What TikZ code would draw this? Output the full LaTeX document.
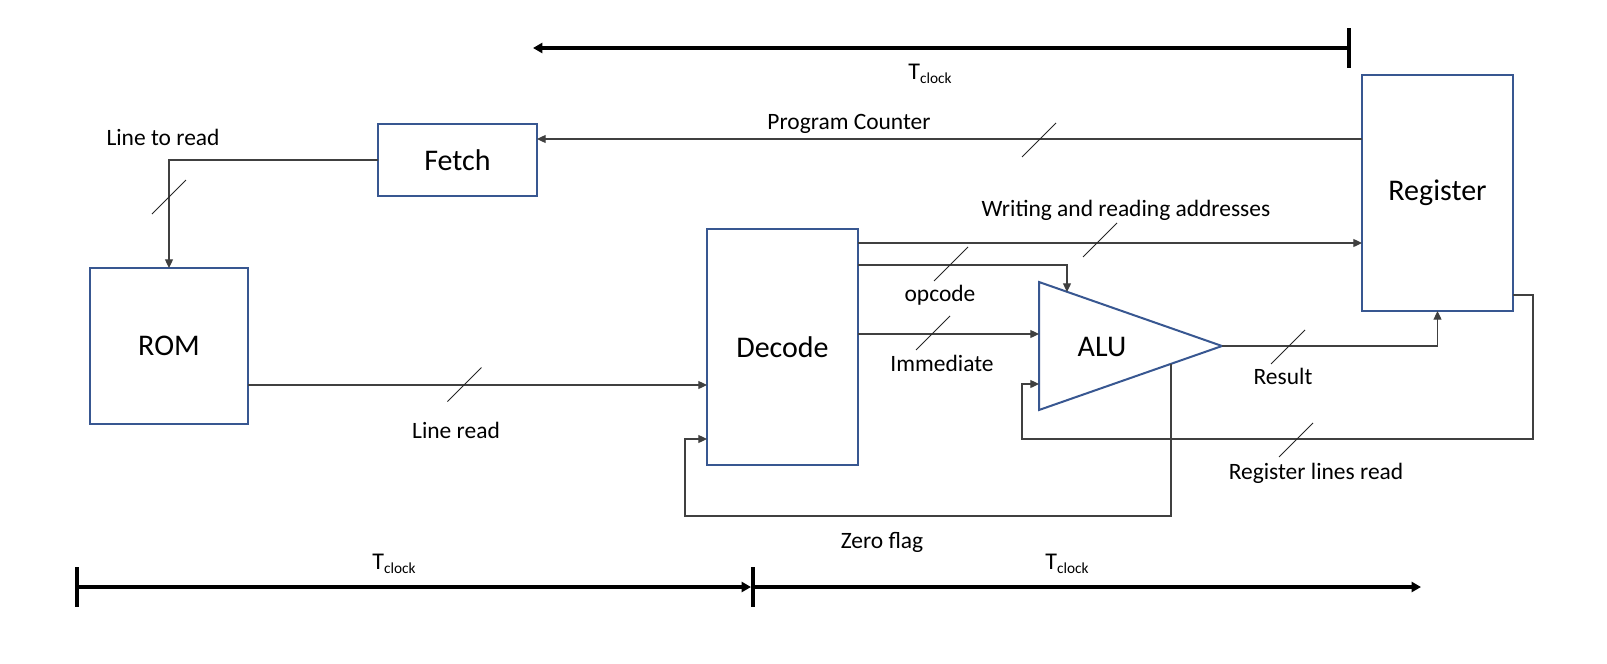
\documentclass[tikz,border=0pt]{standalone}
\usepackage{fontspec}
\setmainfont{Carlito}
\usetikzlibrary{arrows.meta}
\definecolor{boxblue}{RGB}{56,87,145}
\tikzset{
  box/.style={draw=boxblue, line width=1.5pt, inner sep=0pt, outer sep=0pt, fill=white,
              font=\fontsize{22.5}{26}\selectfont},
  conn/.style={draw=black!75, line width=0.9pt},
  arr/.style={conn, -{Triangle[length=6.5pt,width=6pt]}},
  tick/.style={draw=black!85, line width=0.7pt},
  lbl/.style={font=\fontsize{17.6}{20}\selectfont, inner sep=0pt, anchor=base},
  tline/.style={draw=black, line width=3pt},
  tarr/.style={tline, -{Triangle[length=7pt,width=7.5pt]}},
  tbar/.style={draw=black, line width=3.6pt},
  tclk/.style={font=\fontsize{18}{20}\selectfont, inner sep=0pt, anchor=base}
}
\newcommand{\tclock}{T\raisebox{-3pt}{\fontsize{11.5}{12}\selectfont clock}}
\begin{document}
\begin{tikzpicture}[x=0.75pt,y=-0.75pt]
\useasboundingbox (0,0) rectangle (1607,664);

% boxes
\node[box, minimum width=119.25pt, minimum height=54pt] (fetch) at (457.5,160) {Fetch};
\node[box, minimum width=118.5pt, minimum height=117pt] (rom) at (169,346) {ROM};
\node[box, minimum width=113.25pt, minimum height=177pt] (dec) at (782.5,347) {Decode};
\node[box, minimum width=113.25pt, minimum height=177pt] (reg) at (1437.5,193) {Register};

% ALU triangle
\coordinate (alutl) at (1039,282);
\coordinate (alubl) at (1039,410);
\coordinate (aluapex) at (1222,346);
\draw[draw=boxblue, line width=1.5pt, fill=white, line join=miter] (alutl) -- (aluapex) -- (alubl) -- cycle;
\node[font=\fontsize{22.5}{26}\selectfont, inner sep=0pt] (alu) at (1102,347) {ALU};

% helper coordinates
\coordinate (pcy) at (0,139);
\coordinate (lry) at (0,385);
\coordinate (way) at (0,243);
\coordinate (opy) at (0,265);
\coordinate (opin) at (1067,292);
\coordinate (imin) at (1039,334);
\coordinate (rly) at (0,295);
\coordinate (rlc1) at (1533,295);
\coordinate (rlc2) at (1533,439);
\coordinate (rlc3) at (1022,439);
\coordinate (rlc4) at (1022,384);
\coordinate (rlin) at (1039,384);
\coordinate (zfout) at (1171,364);
\coordinate (zfc1) at (1171,516);
\coordinate (zfc2) at (685,516);
\coordinate (zfc3) at (685,439);
\coordinate (zfy) at (0,439);

% connectors
\draw[arr] (reg.west |- pcy) -- (fetch.east |- pcy);
\draw[arr] (fetch.west) -| (rom.north);
\draw[arr] (rom.east |- lry) -- (dec.west |- lry);
\draw[arr] (dec.east |- way) -- (reg.west |- way);
\draw[arr] (dec.east |- opy) -| (opin);
\draw[arr] (dec.east |- imin) -- (imin);
\draw[arr] (aluapex) -| (reg.south);
\draw[arr] (reg.east |- rly) -- (rlc1) -- (rlc2) -- (rlc3) -- (rlc4) -- (rlin);
\draw[arr] (zfout) -- (zfc1) -- (zfc2) -- (zfc3) -- (dec.west |- zfy);

% bus ticks
\draw[tick] (169,197) +(-17,17) -- +(17,-17);
\draw[tick] (1039,140) +(-17,17) -- +(17,-17);
\draw[tick] (464.5,384.5) +(-17,17) -- +(17,-17);
\draw[tick] (1100,240) +(-17,17) -- +(17,-17);
\draw[tick] (951,264) +(-17,17) -- +(17,-17);
\draw[tick] (933,333) +(-17,17) -- +(17,-17);
\draw[tick] (1288,347) +(-17,17) -- +(17,-17);
\draw[tick] (1296,440) +(-17,17) -- +(17,-17);

% labels
\node[lbl] (l1) at (163,145) {Line to read};
\node[lbl] (l2) at (849,129) {Program Counter};
\node[lbl] (l3) at (1126,216) {Writing and reading addresses};
\node[lbl] (l4) at (940,301) {opcode};
\node[lbl] (l5) at (942,371) {Immediate};
\node[lbl] (l6) at (1283,384) {Result};
\node[lbl] (l7) at (1316,479) {Register lines read};
\node[lbl] (l8) at (456,438) {Line read};
\node[lbl] (l9) at (882,548) {Zero flag};

% timelines
\coordinate (tb1) at (1349,48);
\coordinate (te1) at (533,48);
\draw[tbar] (1349,28) -- (1349,68);
\draw[tarr] (tb1) -- (te1);
\node[tclk] (t1) at (930,79) {\tclock};

\coordinate (tb2) at (77,587);
\coordinate (tb3) at (753,587);
\coordinate (te3) at (1421,587);
\draw[tbar] (77,567) -- (77,607);
\draw[tbar] (753,567) -- (753,607);
\draw[tarr] (tb2) -- (751,587);
\draw[tarr] (tb3) -- (te3);
\node[tclk] (t2) at (394,569) {\tclock};
\node[tclk] (t3) at (1067,569) {\tclock};
\end{tikzpicture}
\end{document}
